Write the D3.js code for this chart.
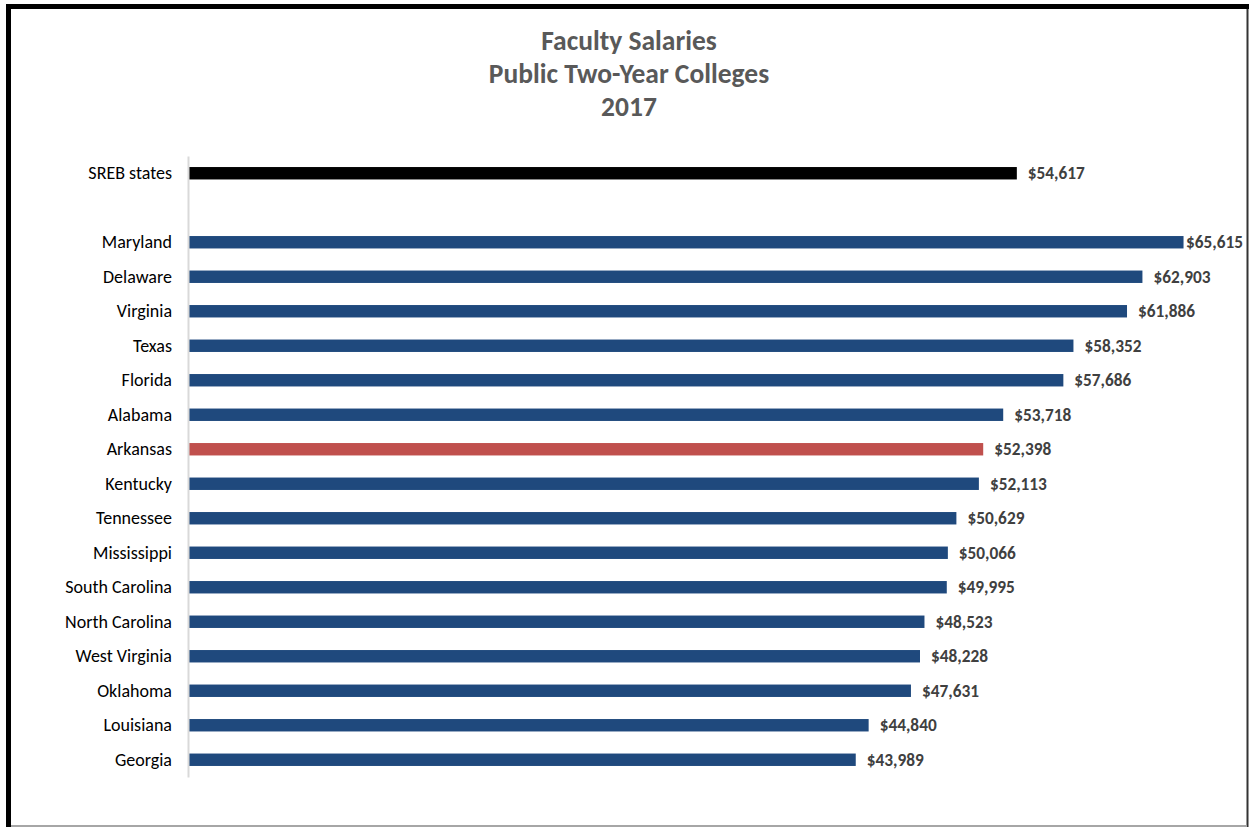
<!DOCTYPE html>
<html>
<head>
<meta charset="utf-8">
<script src="https://cdn.jsdelivr.net/npm/d3@7"></script>
<style>
  html, body { margin: 0; padding: 0; background: #fff; }
  svg { display: block; }
</style>
</head>
<body>
<svg id="chart" width="1249" height="827"></svg>
<script>
// Average faculty salary, public two-year colleges, 2017 (SREB region)
const categories = ["SREB states", "", "Maryland", "Delaware", "Virginia", "Texas", "Florida",
  "Alabama", "Arkansas", "Kentucky", "Tennessee", "Mississippi", "South Carolina",
  "North Carolina", "West Virginia", "Oklahoma", "Louisiana", "Georgia"];
const salaries = [54617, null, 65615, 62903, 61886, 58352, 57686,
  53718, 52398, 52113, 50629, 50066, 49995,
  48523, 48228, 47631, 44840, 43989];
const titleLines = ["Faculty Salaries", "Public Two-Year Colleges", "2017"];

const FONT = "Carlito, Lato, 'Open Sans', sans-serif";
const svg = d3.select("#chart");
const W = 1249, H = 827;

const rows = categories.map((c, i) => ({ key: "r" + i, name: c, value: salaries[i] }));

const y = d3.scaleBand()
  .domain(rows.map(d => d.key))
  .range([156, 777])
  .paddingInner(0.64)
  .paddingOuter(0.32);

const x = d3.scaleLinear().domain([0, 70000]).range([189, 1250]);

function barColor(d) {
  if (d.name === "SREB states") return "#000000";
  if (d.name === "Arkansas") return "#C0504D";
  return "#1F497D";
}

// frame
svg.append("rect").attr("x", 0).attr("y", 0).attr("width", W).attr("height", H).attr("fill", "#fff");
svg.append("line").attr("x1", 6).attr("x2", 1249).attr("y1", 6.5).attr("y2", 6.5)
  .attr("stroke", "#000").attr("stroke-width", 5);
svg.append("line").attr("x1", 8.5).attr("x2", 8.5).attr("y1", 4).attr("y2", 827)
  .attr("stroke", "#000").attr("stroke-width", 5);
svg.append("line").attr("x1", 1247.5).attr("x2", 1247.5).attr("y1", 9).attr("y2", 827)
  .attr("stroke", "#333").attr("stroke-width", 2);
svg.append("line").attr("x1", 11).attr("x2", 1247).attr("y1", 826).attr("y2", 826)
  .attr("stroke", "#a6a6a6").attr("stroke-width", 2);

// title
svg.append("g").selectAll("text").data(titleLines).join("text")
  .attr("x", 629)
  .attr("y", (d, i) => 49.5 + i * 33)
  .attr("text-anchor", "middle")
  .attr("font-family", FONT)
  .attr("font-weight", "bold")
  .attr("font-size", 27.5)
  .attr("fill", "#595959")
  .text(d => d);

// bars
const barRows = rows.filter(d => d.value != null);
svg.append("g").selectAll("rect").data(barRows).join("rect")
  .attr("x", x(0))
  .attr("y", d => y(d.key))
  .attr("width", d => x(d.value) - x(0))
  .attr("height", y.bandwidth())
  .attr("fill", d => barColor(d));

// category axis
const yAxis = d3.axisLeft(y)
  .tickSize(0)
  .tickPadding(16)
  .tickFormat(k => rows.find(r => r.key === k).name);
const ag = svg.append("g").attr("transform", `translate(${x(0) - 1},0)`).call(yAxis);
ag.select(".domain").attr("stroke", "#d9d9d9").attr("stroke-width", 2);
ag.selectAll("text")
  .attr("font-family", FONT)
  .attr("font-size", 18)
  .attr("fill", "#000");

// value labels
const fmt = d3.format("$,");
const labels = svg.append("g").selectAll("text").data(barRows).join("text")
  .attr("y", d => y(d.key) + y.bandwidth() / 2)
  .attr("dy", "0.35em")
  .attr("font-family", FONT)
  .attr("font-weight", "bold")
  .attr("font-size", 17.3)
  .attr("fill", "#404040")
  .text(d => fmt(d.value));
labels.each(function(d) {
  const w = this.getComputedTextLength();
  const lx = Math.min(x(d.value) + 11, 1243 - w);
  d3.select(this).attr("x", lx);
});
</script>
</body>
</html>
